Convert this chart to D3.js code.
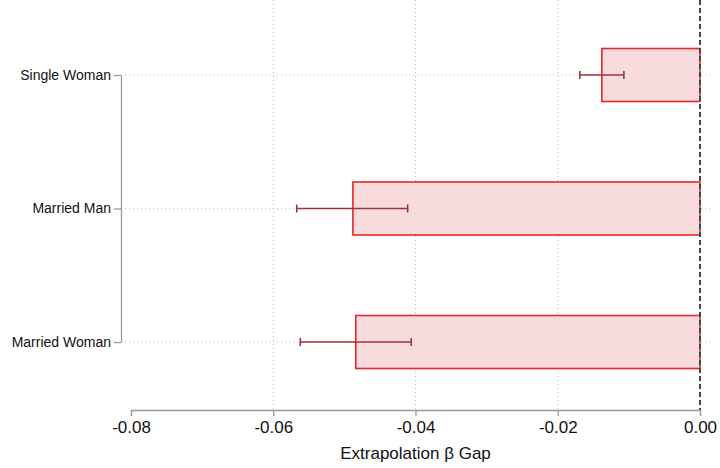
<!DOCTYPE html>
<html>
<head>
<meta charset="utf-8">
<script src="https://cdn.jsdelivr.net/npm/d3@7"></script>
<style>
  body { margin: 0; background: #fff; }
  svg { font-family: "Liberation Sans", Arial, Helvetica, sans-serif; }
</style>
</head>
<body>
<svg width="720" height="468"></svg>
<script>
// data
const groups = ["Single Woman", "Married Man", "Married Woman"];
const gap = [-0.0138, -0.0488, -0.0484];
const ciLow = [-0.0169, -0.0567, -0.0562];
const ciHigh = [-0.0107, -0.0411, -0.0406];
const xTicks = [-0.08, -0.06, -0.04, -0.02, 0.00];

const svg = d3.select("svg");

const x = d3.scaleLinear().domain([-0.08, 0]).range([131, 700]);
const y = d3.scaleLinear().domain([0, groups.length - 1]).range([75, 342]);
const axisY = 410;
const barH = 53;

// vertical grid
svg.append("g")
  .selectAll("line")
  .data(xTicks.filter(d => d !== -0.08 && d !== 0))
  .enter().append("line")
    .attr("x1", d => x(d)).attr("x2", d => x(d))
    .attr("y1", 0).attr("y2", axisY)
    .attr("stroke", "#bbb")
    .attr("stroke-width", 1)
    .attr("stroke-dasharray", "1,3");

// horizontal grid at categories
svg.append("g")
  .selectAll("line")
  .data(groups)
  .enter().append("line")
    .attr("x1", 121).attr("x2", 712)
    .attr("y1", (d, i) => y(i)).attr("y2", (d, i) => y(i))
    .attr("stroke", "#bbb")
    .attr("stroke-width", 1)
    .attr("stroke-dasharray", "1,3");

// bars
svg.append("g")
  .selectAll("rect")
  .data(gap)
  .enter().append("rect")
    .attr("x", d => x(d))
    .attr("y", (d, i) => y(i) - barH / 2)
    .attr("width", d => x(0) - x(d))
    .attr("height", barH)
    .attr("fill", "#f8dbdc")
    .attr("stroke", "#e3282b")
    .attr("stroke-width", 1.6);

// zero line
svg.append("line")
  .attr("x1", x(0)).attr("x2", x(0))
  .attr("y1", 0).attr("y2", axisY)
  .attr("stroke", "#444")
  .attr("stroke-width", 2)
  .attr("stroke-dasharray", "5,3");

// error bars
const err = svg.append("g").attr("stroke", "#9c3539").attr("stroke-width", 1.6);
groups.forEach((g, i) => {
  err.append("line")
    .attr("x1", x(ciLow[i])).attr("x2", x(ciHigh[i]))
    .attr("y1", y(i)).attr("y2", y(i));
  [ciLow[i], ciHigh[i]].forEach(v => {
    err.append("line")
      .attr("x1", x(v)).attr("x2", x(v))
      .attr("y1", y(i) - 4).attr("y2", y(i) + 4);
  });
});

// x axis (plain hyphen for minus, like the original)
const fmt = d => d3.format(".2f")(d).replace("−", "-");
const xAxis = svg.append("g")
  .attr("transform", `translate(0,${axisY})`)
  .call(d3.axisBottom(x).tickValues(xTicks).tickFormat(fmt).tickSize(6).tickPadding(5));
xAxis.select(".domain").attr("stroke", "#999").attr("stroke-width", 1.3);
xAxis.selectAll(".tick line").attr("stroke", "#999").attr("stroke-width", 1.3);
xAxis.selectAll("text").attr("font-size", 17).attr("fill", "#111")
  .attr("font-family", "'Liberation Sans', Arial, sans-serif");

// y axis
const yAxis = svg.append("g")
  .attr("transform", "translate(121,0)")
  .call(d3.axisLeft(y).tickValues(d3.range(groups.length)).tickFormat(i => groups[i]).tickSize(7).tickPadding(3).tickSizeOuter(0));
yAxis.select(".domain").attr("stroke", "#999").attr("stroke-width", 1.3);
yAxis.selectAll(".tick line").attr("stroke", "#999").attr("stroke-width", 1.3);
yAxis.selectAll("text").attr("font-size", 14).attr("fill", "#111")
  .attr("font-family", "'Liberation Sans', Arial, sans-serif");

// axis title
svg.append("text")
  .attr("x", x(-0.04))
  .attr("y", 459)
  .attr("text-anchor", "middle")
  .attr("font-size", 17)
  .attr("fill", "#111")
  .text("Extrapolation β Gap");
</script>
</body>
</html>
